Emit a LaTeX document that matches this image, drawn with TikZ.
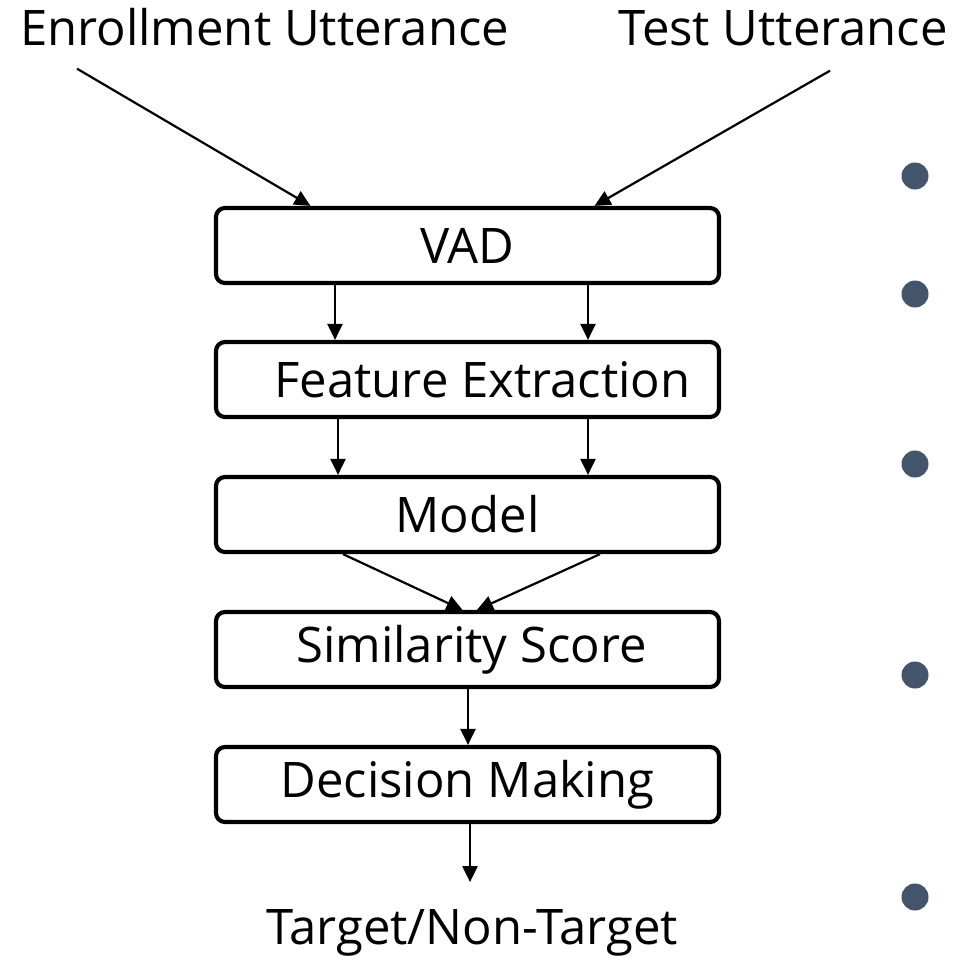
\documentclass[tikz,border=0pt]{standalone}
\usepackage{fontspec}
\setmainfont{Open Sans}
\usetikzlibrary{arrows.meta}
\definecolor{dotgray}{HTML}{44546A}
\begin{document}
\begin{tikzpicture}[x=1pt, y=-1pt,
	blk/.style={draw, line width=4.2pt, rounded corners=9pt, minimum width=503pt, minimum height=75pt, inner sep=0pt, font=\fontsize{49}{60}\selectfont},
	lbl/.style={inner sep=0pt, font=\fontsize{49}{60}\selectfont},
	arr/.style={line width=2.2pt, -{Triangle[length=16pt,width=15pt]}},
	dot/.style={circle, fill=dotgray, minimum size=27pt, inner sep=0pt}]
		\useasboundingbox (0,0) rectangle (957,966);
		\node[lbl, anchor=base west] (enr) at (20,46) {Enrollment Utterance};
		\node[lbl, anchor=base east] (test) at (948,46) {Test Utterance};
		\node[blk] (vad) at (467.5,245.5) {VAD};
		\node[blk] (feat) at (467.5,379.5) {\hspace{30pt}Feature Extraction};
		\node[blk] (model) at (467.5,514.5) {Model};
		\node[blk] (sim) at (467.5,649.5) {\hspace{8pt}Similarity Score};
		\node[blk] (dec) at (467.5,784.5) {Decision Making};
		\node[lbl, anchor=base] (tgt) at (472,944) {Target/Non-Target};
		
		\node[dot] (d1) at (915,176) {};
		\node[dot] (d2) at (915,294) {};
		\node[dot] (d3) at (915,464) {};
		\node[dot] (d4) at (915,675) {};
		\node[dot] (d5) at (915,897) {};
		
		\draw[arr] ([xshift=57pt,yshift=-22pt]enr.south west) -- ([xshift=-157pt]vad.north);
		\draw[arr] ([xshift=-118pt,yshift=-24pt]test.south east) -- ([xshift=127pt]vad.north);
		\draw[arr] ([xshift=-132.5pt]vad.south) -- ([xshift=-132.5pt]feat.north);
		\draw[arr] ([xshift=120.5pt]vad.south) -- ([xshift=120.5pt]feat.north);
		\draw[arr] ([xshift=-129.5pt]feat.south) -- ([xshift=-129.5pt]model.north);
		\draw[arr] ([xshift=120.5pt]feat.south) -- ([xshift=120.5pt]model.north);
		\draw[arr] ([xshift=-124.5pt]model.south) -- ([xshift=-5pt]sim.north);
		\draw[arr] ([xshift=132.5pt]model.south) -- ([xshift=9.5pt]sim.north);
		\draw[arr] ([xshift=0.5pt]sim.south) -- ([xshift=0.5pt]dec.north);
		\draw[arr] ([xshift=2.5pt]dec.south) -- ([xshift=2.5pt,yshift=-58pt]dec.south);
		\end{tikzpicture}
\end{document}
